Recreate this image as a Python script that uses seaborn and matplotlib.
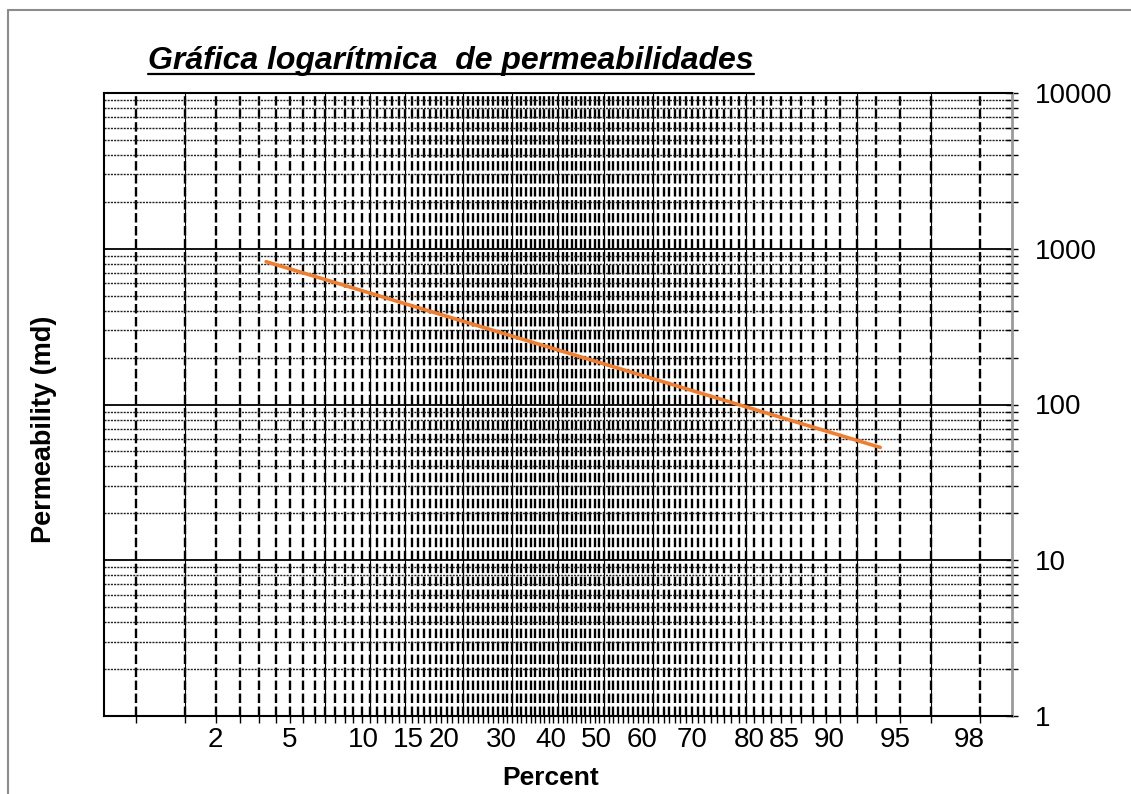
import math

import matplotlib
matplotlib.use("Agg")
import matplotlib.pyplot as plt
import numpy as np
import pandas as pd
import seaborn as sns
from matplotlib.lines import Line2D
from matplotlib.ticker import FixedFormatter, FixedLocator, LogLocator, NullFormatter
from matplotlib.transforms import ScaledTranslation

# ---- data -------------------------------------------------------------
percent = [5.4, 96.2]              # cumulative frequency, %
permeability = [826, 53]           # md

x_label_values = [2, 5, 10, 15, 20, 30, 40, 50, 60, 70, 80, 85, 90, 95, 98]
x_accent_values = [2, 10, 15, 20, 30, 40, 50, 60, 70, 85, 95, 98]
y_tick_values = [1, 10, 100, 1000, 10000]

TITLE = "Gráfica logarítmica  de permeabilidades"
LINE_COLOR = "#EE7E32"


# ---- probability (normal) scale helpers -------------------------------
_A = [-3.969683028665376e+01, 2.209460984245205e+02, -2.759285104469687e+02,
      1.383577518672690e+02, -3.066479806614716e+01, 2.506628277459239e+00]
_B = [-5.447609879822406e+01, 1.615858368580409e+02, -1.556989798598866e+02,
      6.680131188771972e+01, -1.328068155288572e+01]
_C = [-7.784894002430293e-03, -3.223964580411365e-01, -2.400758277161838e+00,
      -2.549671010218184e+00, 4.374664141464968e+00, 2.938163982698783e+00]
_D = [7.784695709041462e-03, 3.224671290700398e-01, 2.445134137142996e+00,
      3.754408661907416e+00]


def _tail(r):
    num = ((((_C[0] * r + _C[1]) * r + _C[2]) * r + _C[3]) * r + _C[4]) * r + _C[5]
    den = (((_D[0] * r + _D[1]) * r + _D[2]) * r + _D[3]) * r + 1
    return num / den


def norm_ppf(q):
    q = np.asarray(q, dtype=float)
    shape = q.shape
    q = np.atleast_1d(q).ravel()
    out = np.empty_like(q)
    plow = 0.02425
    lo = q < plow
    hi = q > 1 - plow
    mid = ~(lo | hi)
    if lo.any():
        out[lo] = _tail(np.sqrt(-2 * np.log(q[lo])))
    if hi.any():
        out[hi] = -_tail(np.sqrt(-2 * np.log(1 - q[hi])))
    if mid.any():
        s = q[mid] - 0.5
        r = s * s
        num = (((((_A[0] * r + _A[1]) * r + _A[2]) * r + _A[3]) * r + _A[4]) * r + _A[5]) * s
        den = ((((_B[0] * r + _B[1]) * r + _B[2]) * r + _B[3]) * r + _B[4]) * r + 1
        out[mid] = num / den
    return out.reshape(shape)


_erf = np.vectorize(math.erf, otypes=[float])


def norm_cdf(z):
    z = np.asarray(z, dtype=float)
    return 0.5 * (1 + _erf(z / math.sqrt(2)))


def pct_forward(x):
    q = np.clip(np.asarray(x, dtype=float) / 100.0, 1e-12, 1 - 1e-12)
    return norm_ppf(q)


def pct_inverse(z):
    return 100.0 * norm_cdf(z)


# ---- figure -----------------------------------------------------------
sns.set_style("white")
plt.rcParams["font.family"] = ["Liberation Sans", "DejaVu Sans"]
plt.rcParams["text.color"] = "black"
plt.rcParams["axes.labelcolor"] = "black"

W, H = 1131, 794
fig = plt.figure(figsize=(W / 100, H / 100), dpi=100)
ax = fig.add_axes([104 / W, 1 - 716 / H, 908 / W, 623 / H])

ax.set_xscale("function", functions=(pct_forward, pct_inverse))
ax.set_yscale("log")

df = pd.DataFrame({"Percent": percent, "Permeability": permeability})
sns.lineplot(data=df, x="Percent", y="Permeability", ax=ax,
             color=LINE_COLOR, linewidth=2.6, legend=False, zorder=5)

ax.set_xlim(float(pct_inverse(-2.5)), float(pct_inverse(2.5)))
ax.set_ylim(1, 10000)

# x axis: a line at every whole percent, labels on selected values
grid_pcts = list(range(1, 100))
ax.xaxis.set_major_locator(FixedLocator(grid_pcts))
ax.xaxis.set_major_formatter(FixedFormatter(
    [f"{p}" if p in x_label_values else "" for p in grid_pcts]))
ax.xaxis.set_minor_locator(FixedLocator(x_accent_values))
ax.xaxis.set_minor_formatter(NullFormatter())
ax.xaxis.remove_overlapping_locs = False

# y axis: decades with 2..9 subdivisions, labels on the right
ax.yaxis.set_major_locator(FixedLocator(y_tick_values))
ax.yaxis.set_major_formatter(FixedFormatter([f"{v}" for v in y_tick_values]))
ax.yaxis.set_minor_locator(LogLocator(base=10, subs=range(2, 10)))
ax.yaxis.set_minor_formatter(NullFormatter())
ax.yaxis.tick_right()

ax.set_axisbelow(True)
ax.xaxis.grid(True, which="minor", color="black", linewidth=0.8, linestyle="-")
ax.xaxis.grid(True, which="major", color="black", linewidth=1.7,
              linestyle=(0, (4, 1.5)))
ax.yaxis.grid(True, which="major", color="black", linewidth=1.3, linestyle="-")
ax.yaxis.grid(True, which="minor", color="#222222", linewidth=1.0,
              linestyle=(0, (1.5, 0.8)))

ax.tick_params(axis="x", which="major", direction="out", length=5, width=1,
               color="black", pad=3, labelsize=20, labelcolor="black",
               bottom=True, top=False)
ax.tick_params(axis="x", which="minor", length=0)
ax.tick_params(axis="y", which="both", direction="inout", length=8.5, width=1,
               color="black", right=True, left=False, labelright=True,
               labelleft=False, pad=12, labelsize=20, labelcolor="black")

for side in ("top", "bottom", "left"):
    ax.spines[side].set_color("black")
    ax.spines[side].set_linewidth(1.5)
ax.spines["right"].set_color("#9a9a9a")
ax.spines["right"].set_linewidth(2)

# percent labels sit to the right of their lines
shift = ScaledTranslation(23 / 100, 0, fig.dpi_scale_trans)
for tick in ax.xaxis.get_major_ticks():
    tick.label1.set_horizontalalignment("left")
    tick.label1.set_transform(tick.label1.get_transform() + shift)

ax.set_xlabel("Percent", fontsize=19, fontweight="bold", color="black")
ax.xaxis.set_label_coords(0.492, -0.08)
ax.set_ylabel("Permeability (md)", fontsize=19.5, fontweight="bold", color="black")
ax.yaxis.set_label_position("left")
ax.yaxis.set_label_coords(-0.052, 0.46)

# underlined title
title = fig.text(148 / W, 1 - 69 / H, TITLE, fontsize=23, fontweight="bold",
                 fontstyle="italic", ha="left", va="baseline", color="black")
fig.canvas.draw()
bb = title.get_window_extent()
fig.add_artist(Line2D([bb.x0 / W, bb.x1 / W], [1 - 74 / H] * 2,
                      transform=fig.transFigure, color="black", linewidth=1.6))

# chart-area frame (top and left edges)
frame_kw = dict(transform=fig.transFigure, color="#8c8c8c", linewidth=1.5)
fig.add_artist(Line2D([8 / W, 1], [1 - 10 / H] * 2, **frame_kw))
fig.add_artist(Line2D([8 / W] * 2, [0, 1 - 10 / H], **frame_kw))

fig.savefig("out.png", dpi=100)
